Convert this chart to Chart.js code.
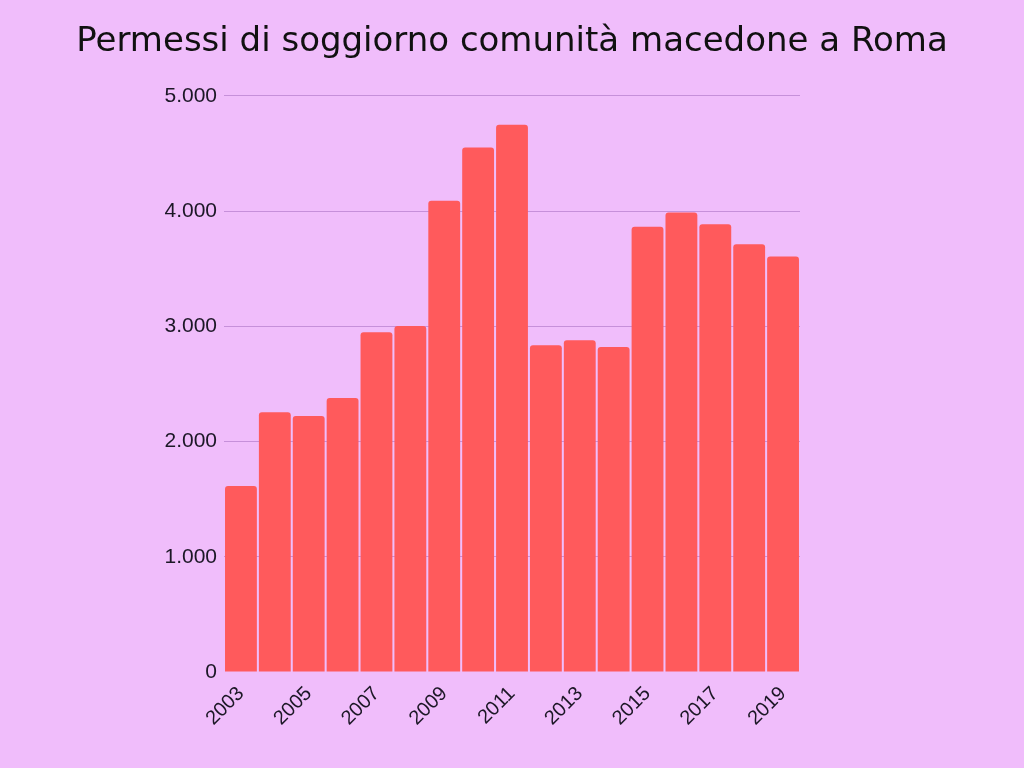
<!DOCTYPE html>
<html lang="it">
<head>
<meta charset="utf-8">
<title>Permessi di soggiorno comunità macedone a Roma</title>
<script src="https://cdn.jsdelivr.net/npm/chart.js@4/dist/chart.umd.min.js"></script>
<style>
    html, body {
        margin: 0;
        padding: 0;
        background: #f0bdfb;
    }
    #wrap {
        width: 1024px;
        height: 768px;
    }
</style>
</head>
<body>
<div id="wrap"><canvas id="myChart" width="1024" height="768"></canvas></div>
<script>
const titleText = 'Permessi di soggiorno comunità macedone a Roma';
const years = ['2003', '2004', '2005', '2006', '2007', '2008', '2009', '2010', '2011',
    '2012', '2013', '2014', '2015', '2016', '2017', '2018', '2019'];
const permits = [1614, 2254, 2222, 2378, 2949, 3003, 4089, 4551, 4748,
    2836, 2879, 2821, 3863, 3987, 3886, 3712, 3605];
const yTicks = [0, 1000, 2000, 3000, 4000, 5000];

const textColor = '#1c1726';
const yFont = { family: '"Liberation Sans", Arial, sans-serif', size: 21 };
const xFont = { family: '"Liberation Sans", Arial, sans-serif', size: 20 };

// 5000 -> "5.000"
function formatIt(v) {
    return String(v).replace(/\B(?=(\d{3})+(?!\d))/g, '.');
}

document.addEventListener('DOMContentLoaded', () => {
    const ctx = document.getElementById('myChart').getContext('2d');

    new Chart(ctx, {
        type: 'bar',
        data: {
            labels: years,
            datasets: [{
                label: 'Permessi',
                data: permits,
                backgroundColor: '#ff5a5c',
                borderRadius: 3,
                borderSkipped: 'bottom',
                categoryPercentage: 0.94,
                barPercentage: 1.0
            }]
        },
        options: {
            responsive: false,
            animation: false,
            layout: {
                padding: 0
            },
            plugins: {
                legend: { display: false },
                tooltip: { enabled: false },
                title: {
                    display: true,
                    text: titleText,
                    color: '#111111',
                    font: { family: '"DejaVu Sans", sans-serif', size: 34, weight: 'normal', lineHeight: 1.2 },
                    padding: { top: 22, bottom: 33 }
                }
            },
            scales: {
                x: {
                    grid: { display: false },
                    border: { display: false },
                    afterFit: (scale) => { scale.height = 96; },
                    ticks: {
                        autoSkip: false,
                        maxRotation: 45,
                        minRotation: 45,
                        color: textColor,
                        padding: 2,
                        font: xFont,
                        callback: function (value, index) {
                            return index % 2 === 0 ? this.getLabelForValue(value) : '';
                        }
                    }
                },
                y: {
                    min: 0,
                    max: 5000,
                    afterFit: (scale) => { scale.width = 224; },
                    afterBuildTicks: (scale) => {
                        scale.ticks = yTicks.map(v => ({ value: v }));
                    },
                    border: { display: false },
                    grid: {
                        color: (c) => c.tick && c.tick.value === 0 ? 'rgba(0,0,0,0)' : '#c690da',
                        lineWidth: 1,
                        drawTicks: false
                    },
                    ticks: {
                        color: textColor,
                        padding: 7,
                        font: yFont,
                        callback: (v) => formatIt(v)
                    }
                },
                // empty axis, only keeps the right margin so the title stays centred on the page
                spacer: {
                    type: 'linear',
                    position: 'right',
                    display: true,
                    grid: { display: false },
                    border: { display: false },
                    ticks: { display: false },
                    afterFit: (scale) => { scale.width = 224; }
                }
            }
        }
    });
});
</script>
</body>
</html>
